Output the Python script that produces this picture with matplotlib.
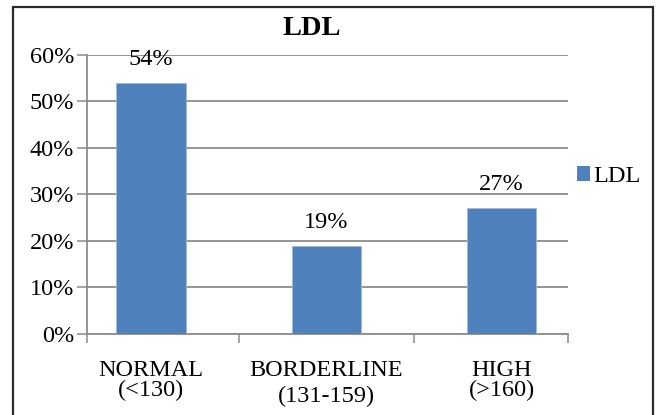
import matplotlib
matplotlib.use("Agg")
import matplotlib.pyplot as plt
from matplotlib.patches import Rectangle, Patch
from matplotlib.ticker import FixedLocator, PercentFormatter

categories = ["NORMAL", "BORDERLINE", "HIGH"]
ranges = ["(<130)", "(131-159)", "(>160)"]
values = [54, 19, 27]
series_name = "LDL"
yticks = [0, 10, 20, 30, 40, 50, 60]

BAR = "#4F81BD"
GRID = "#8C8C8C"
FONT = "Liberation Serif"
FS = 17.5

plt.rcParams["font.family"] = [FONT, "DejaVu Serif"]

fig = plt.figure(figsize=(6.59, 4.15), dpi=100)
ax = fig.add_axes([0.1316, 0.1952, 0.7299, 0.6723])

x = list(range(len(categories)))
ax.bar(x, values, width=0.395, color=BAR, edgecolor="#9DB9DD", linewidth=0.6,
       label=series_name, zorder=3)

for xi, v in zip(x, values):
    ax.annotate(f"{v}%", (xi, v), xytext=(0, 13), textcoords="offset points",
                ha="center", va="baseline", fontsize=FS, zorder=4)

ax.set_xlim(-0.367, 2.377)
ax.set_ylim(0, 60)
ax.set_yticks(yticks)
ax.yaxis.set_major_formatter(PercentFormatter(decimals=0))
ax.grid(axis="y", color=GRID, linewidth=1.3, zorder=0)
ax.tick_params(axis="y", length=7, width=1.1, color=GRID, pad=2, labelsize=FS)

# category labels on major ticks (no tick marks); separator ticks as minor ticks
ax.set_xticks(x)
ax.set_xticklabels([f"{c}\n{r}" for c, r in zip(categories, ranges)])
ax.tick_params(axis="x", which="major", length=0, pad=19, labelsize=FS)
for lbl, ls in zip(ax.get_xticklabels(), [0.9, 1.25, 0.9]):
    lbl.set_linespacing(ls)
    lbl.set_va("top")
ax.xaxis.set_minor_locator(FixedLocator([-0.367, 0.5, 1.5, 2.377]))
ax.tick_params(axis="x", which="minor", length=6.5, width=1.1, color=GRID)

for side in ("top", "right"):
    ax.spines[side].set_visible(False)
for side in ("left", "bottom"):
    ax.spines[side].set_color(GRID)
    ax.spines[side].set_linewidth(1.3)

fig.text(0.4727, 0.9157, "LDL", ha="center", va="baseline",
         fontsize=20.5, fontweight="bold")

ax.legend(handles=[Patch(facecolor=BAR, label=series_name)],
          loc="center left", bbox_to_anchor=(0.875, 0.575),
          bbox_transform=fig.transFigure, frameon=False, fontsize=FS,
          handlelength=0.55, handleheight=0.55, handletextpad=0.15,
          borderpad=0, borderaxespad=0)

fig.patches.append(Rectangle((0.0193, -0.05), 0.9711, 0.9824 + 0.05,
                             transform=fig.transFigure, fill=False,
                             edgecolor="#2B2B2B", linewidth=1.6))

fig.savefig("out.png", dpi=100)
